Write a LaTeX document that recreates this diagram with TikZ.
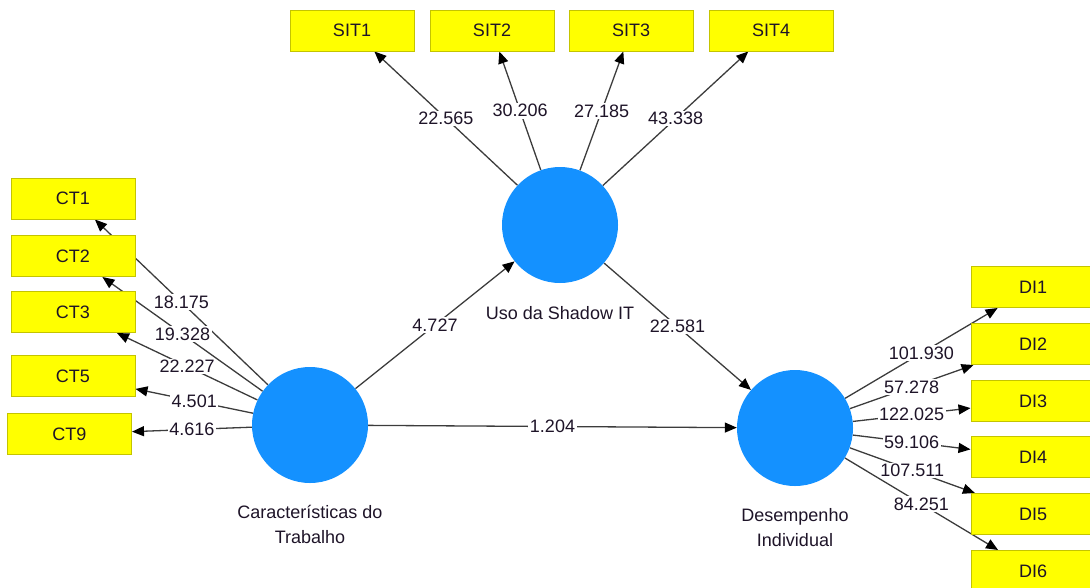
\documentclass[tikz,border=0pt]{standalone}
\usepackage{fontspec}
\setmainfont{Liberation Sans}
\usetikzlibrary{arrows.meta}
\definecolor{latent}{RGB}{20,145,255}
\definecolor{indfill}{RGB}{255,255,0}
\definecolor{inddraw}{RGB}{196,196,0}
\definecolor{edgegray}{RGB}{60,60,60}
\definecolor{txt}{RGB}{30,20,40}
\pgfdeclarelayer{edges}
\pgfsetlayers{edges,main}
\begin{document}
\begin{tikzpicture}[x=1pt,y=-1pt,
  every node/.style={font=\fontsize{18}{25}\selectfont, text=txt},
  latentvar/.style={circle, fill=latent, minimum size=116pt, inner sep=0pt},
  indicator/.style={rectangle, fill=indfill, draw=inddraw, line width=1pt,
    minimum width=124pt, minimum height=41pt, inner sep=0pt},
  link/.style={draw=edgegray, line width=1.3pt,
    -{Triangle[length=12pt,width=10pt,color=black]}},
  coef/.style={fill=white, inner sep=1.5pt, pos=0.5},
  caption/.style={align=center}]
\useasboundingbox (0,0) rectangle (1090,587);
\clip (0,0) rectangle (1090,587);

% latent variables
\node[latentvar] (uso) at (560,225) {};
\node[latentvar] (ct)  at (310,425) {};
\node[latentvar] (di)  at (795,428) {};
\node[caption] (usolab) at (560,313) {Uso da Shadow IT};
\node[caption] (ctlab)  at (310,524.5) {Características do\\Trabalho};
\node[caption] (dilab)  at (795,527.5) {Desempenho\\Individual};

% indicators
\node[indicator] (sit1) at (352,30.5) {SIT1};
\node[indicator] (sit2) at (492,30.5) {SIT2};
\node[indicator] (sit3) at (631,30.5) {SIT3};
\node[indicator] (sit4) at (771,30.5) {SIT4};

\node[indicator] (ct1) at (73,198.5) {CT1};
\node[indicator] (ct2) at (73,256) {CT2};
\node[indicator] (ct3) at (73,312) {CT3};
\node[indicator] (ct5) at (73,376) {CT5};
\node[indicator] (ct9) at (69.5,434) {CT9};

\node[indicator] (di1) at (1033,287) {DI1};
\node[indicator] (di2) at (1033,344) {DI2};
\node[indicator] (di3) at (1033,401) {DI3};
\node[indicator] (di4) at (1033,457) {DI4};
\node[indicator] (di5) at (1033,514) {DI5};
\node[indicator] (di6) at (1033,571) {DI6};

% loadings and path coefficients
\begin{pgfonlayer}{edges}
\foreach \n/\v in {sit1/22.565, sit2/30.206, sit3/27.185, sit4/43.338}
  \draw[link] (uso) -- node[coef] {\v} (\n);
\foreach \n/\v in {ct1/18.175, ct2/19.328, ct3/22.227, ct5/4.501, ct9/4.616}
  \draw[link] (ct) -- node[coef] {\v} (\n);
\foreach \n/\v in {di1/101.930, di2/57.278, di3/122.025, di4/59.106, di5/107.511, di6/84.251}
  \draw[link] (di) -- node[coef] {\v} (\n);
\draw[link] (ct) -- node[coef] {4.727} (uso);
\draw[link] (uso) -- node[coef] {22.581} (di);
\draw[link] (ct) -- node[coef] {1.204} (di);
\end{pgfonlayer}
\end{tikzpicture}
\end{document}
